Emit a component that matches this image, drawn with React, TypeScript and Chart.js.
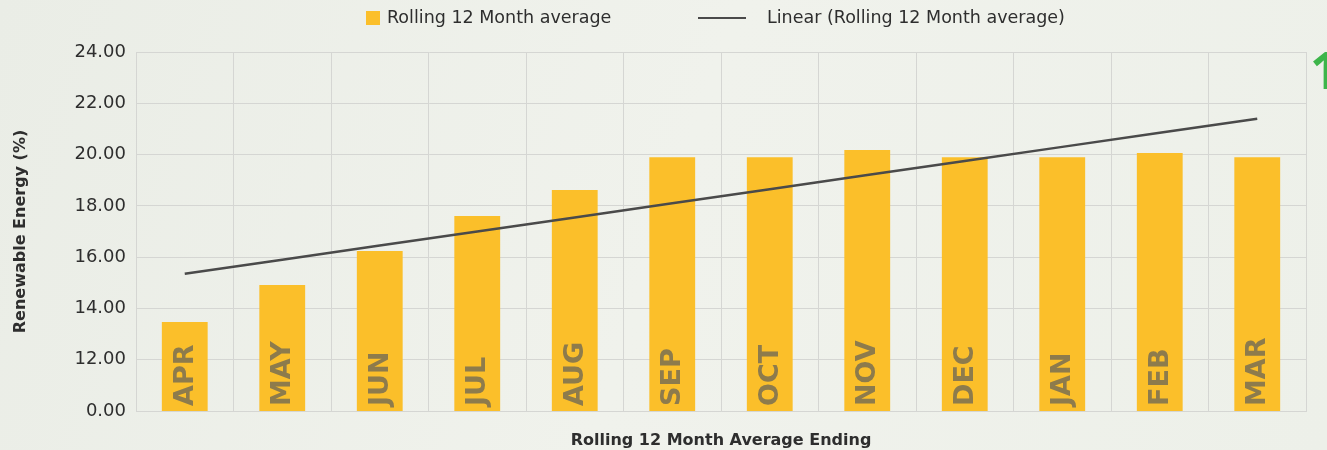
import React, { useEffect, useRef } from "react";
import { Chart, registerables } from "chart.js";

Chart.register(...registerables);

const categories = ["APR", "MAY", "JUN", "JUL", "AUG", "SEP", "OCT", "NOV", "DEC", "JAN", "FEB", "MAR"];
const rollingAverage = [13.47, 14.91, 16.24, 17.6, 18.62, 19.9, 19.9, 20.18, 19.9, 19.9, 20.06, 19.9];
const linearTrend = [15.35, 15.9, 16.45, 17.0, 17.55, 18.1, 18.65, 19.2, 19.75, 20.3, 20.85, 21.4];
const yTickLabels: Record<number, string> = {
  10: "0.00", 12: "12.00", 14: "14.00", 16: "16.00", 18: "18.00", 20: "20.00", 22: "22.00", 24: "24.00",
};

const FONT = "'DejaVu Sans', sans-serif";
const BAR = "#fbbf2a";
const LINE = "#4a4a4a";
const TEXT = "#2e2e2e";
const GRID = "#d5d6d3";

const bgPlugin = {
  id: "bg",
  beforeDraw(chart: any) {
    const { ctx, width, height } = chart;
    ctx.save();
    const g = ctx.createLinearGradient(0, 0, width, height);
    g.addColorStop(0, "#eaede6");
    g.addColorStop(0.5, "#f0f2ec");
    g.addColorStop(1, "#edf0e9");
    ctx.fillStyle = g;
    ctx.fillRect(0, 0, width, height);
    ctx.restore();
  },
};

const decoPlugin = {
  id: "deco",
  afterDatasetsDraw(chart: any) {
    const { ctx } = chart;
    const meta = chart.getDatasetMeta(0);
    const yBottom = chart.scales.y.bottom;
    ctx.save();
    ctx.fillStyle = "#8d7b4c";
    ctx.font = `bold 27px ${FONT}`;
    ctx.textAlign = "left";
    ctx.textBaseline = "middle";
    meta.data.forEach((bar: any, i: number) => {
      ctx.save();
      ctx.translate(bar.x, yBottom - 5);
      ctx.rotate(-Math.PI / 2);
      ctx.fillText(categories[i], 0, 1);
      ctx.restore();
    });
    ctx.restore();
  },
  afterDraw(chart: any) {
    const { ctx } = chart;
    ctx.save();
    // legend
    ctx.fillStyle = BAR;
    ctx.fillRect(366, 11, 14, 14);
    ctx.fillStyle = TEXT;
    ctx.font = `17.5px ${FONT}`;
    ctx.textBaseline = "middle";
    ctx.textAlign = "left";
    ctx.fillText(chart.data.datasets[0].label, 387, 18);
    ctx.strokeStyle = LINE;
    ctx.lineWidth = 2;
    ctx.beginPath();
    ctx.moveTo(698, 18);
    ctx.lineTo(746, 18);
    ctx.stroke();
    ctx.fillText(chart.data.datasets[1].label, 767, 18);
    // green decoration
    ctx.fillStyle = "#3db54a";
    ctx.font = `bold 52px 'Open Sans', sans-serif`;
    ctx.textBaseline = "alphabetic";
    ctx.fillText("1", 1310, 89);
    ctx.restore();
  },
};

export default function App() {
  const ref = useRef<HTMLCanvasElement>(null);
  useEffect(() => {
    if (!ref.current) return;
    const chart = new Chart(ref.current, {
      type: "bar",
      data: {
        labels: categories,
        datasets: [
          {
            type: "bar",
            label: "Rolling 12 Month average",
            data: rollingAverage,
            backgroundColor: BAR,
            categoryPercentage: 1,
            barPercentage: 0.47,
            order: 2,
          },
          {
            type: "line",
            label: "Linear (Rolling 12 Month average)",
            data: linearTrend,
            borderColor: LINE,
            borderWidth: 2.5,
            pointRadius: 0,
            fill: false,
            order: 1,
          } as any,
        ],
      },
      options: {
        animation: false,
        responsive: true,
        maintainAspectRatio: false,
        layout: { padding: { top: 52, right: 21, left: 0, bottom: 0 } },
        plugins: { legend: { display: false }, tooltip: { enabled: false } },
        scales: {
          x: {
            grid: { color: GRID, drawTicks: false, offset: true },
            border: { color: GRID },
            ticks: { display: false },
            title: {
              display: true,
              text: "Rolling 12 Month Average Ending",
              color: TEXT,
              font: { family: FONT, size: 16, weight: "bold" },
              padding: { top: 14, bottom: 0 },
            },
            afterFit: (s: any) => { s.height = 39; },
          },
          y: {
            min: 10,
            max: 24,
            grid: { color: GRID, drawTicks: false },
            border: { color: GRID },
            ticks: {
              stepSize: 2,
              padding: 10,
              color: TEXT,
              font: { family: FONT, size: 18 },
              callback: (v: any) => yTickLabels[v as number] ?? "",
            },
            title: {
              display: true,
              text: "Renewable Energy (%)",
              color: TEXT,
              font: { family: FONT, size: 16, weight: "bold" },
              padding: { top: 11, bottom: 0 },
            },
            afterFit: (s: any) => { s.width = 136; },
          },
        },
      },
      plugins: [bgPlugin, decoPlugin],
    });
    return () => chart.destroy();
  }, []);
  return (
    <div style={{ position: "absolute", left: 0, top: 0, width: 1327, height: 450 }}>
      <canvas ref={ref} />
    </div>
  );
}
